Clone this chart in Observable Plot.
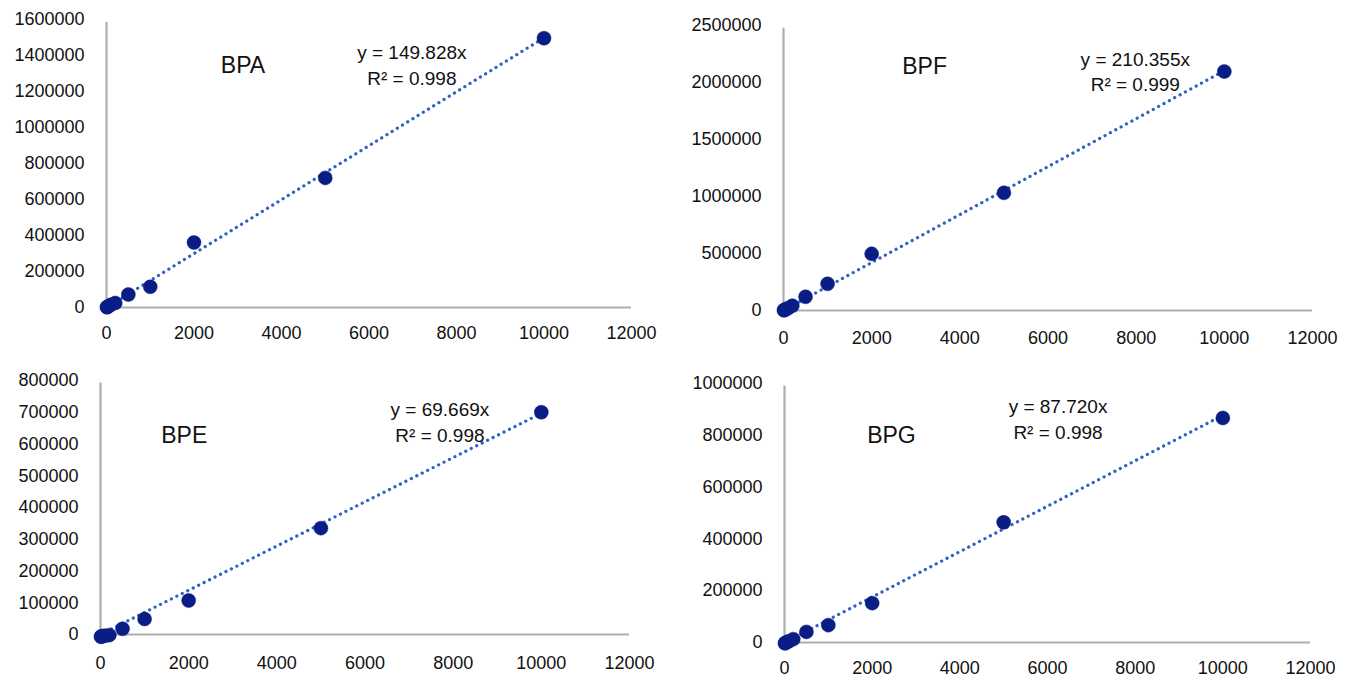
<!DOCTYPE html>
<html><head><meta charset="utf-8">
<script src="https://cdn.jsdelivr.net/npm/d3@7"></script>
<script src="https://cdn.jsdelivr.net/npm/@observablehq/plot@0.6"></script>
<style>
body{margin:0;background:#fff;}
#wrap{position:relative;width:1354px;height:677px;overflow:hidden;background:#fff;}
#wrap svg{position:absolute;}
</style></head><body><div id="wrap"></div>
<script>
// ---- data ----
const compounds = ["BPA", "BPF", "BPE", "BPG"];
const concentrations = [10, 20, 50, 100, 200, 500, 1000, 2000, 5000, 10000];
const bpaValues = [1500, 3000, 7500, 15000, 25000, 72000, 115000, 361000, 720000, 1496000];
const bpfValues = [2000, 4000, 10000, 20000, 42000, 120000, 234000, 497000, 1032000, 2096000];
const bpeValues = [-7000, -6000, -5000, -4000, -2000, 18000, 49000, 107000, 335000, 700000];
const bpgValues = [-3000, -2000, 1000, 5000, 13000, 41000, 67000, 152000, 464000, 867000];
const slopes = [149.828, 210.355, 69.669, 87.720];
const rSquared = ["0.998", "0.999", "0.998", "0.998"];
const xTicks = [0, 2000, 4000, 6000, 8000, 10000, 12000];
const yTicksBPA = [0, 200000, 400000, 600000, 800000, 1000000, 1200000, 1400000, 1600000];
const yTicksBPF = [0, 500000, 1000000, 1500000, 2000000, 2500000];
const yTicksBPE = [0, 100000, 200000, 300000, 400000, 500000, 600000, 700000, 800000];
const yTicksBPG = [0, 200000, 400000, 600000, 800000, 1000000];
// annotation anchors in data units
const nameAnchorX = [3120, 3200, 1900, 2440];
const nameAnchorY = [1341000, 2143000, 627000, 800000];
const eqAnchorX = [6980, 7980, 7700, 6240];
const eqAnchorY = [1413000, 2199000, 707600, 909700];
const r2AnchorY = [1271000, 1982000, 624700, 810000];

const valueSets = [bpaValues, bpfValues, bpeValues, bpgValues];
const yTickSets = [yTicksBPA, yTicksBPF, yTicksBPE, yTicksBPG];

// ---- layout (pixels) ----
const layout = [
  {left: 0,   top: 0,   height: 340, ml: 106, mr: 46, mt: 19, mb: 33, pad: 19},
  {left: 677, top: 0,   height: 340, ml: 106, mr: 42, mt: 25, mb: 30, pad: 21},
  {left: 0,   top: 340, height: 337, ml: 100, mr: 48, mt: 40, mb: 43, pad: 22},
  {left: 677, top: 340, height: 337, ml: 107, mr: 44, mt: 43, mb: 35, pad: 19}
];

const font = "'Liberation Sans', Arial, Helvetica, sans-serif";
const pointColor = "#0a1d85";
const lineColor = "#2f62c2";
const axisColor = "#aeaeae";
const wrap = document.getElementById("wrap");

compounds.forEach((name, i) => {
  const L = layout[i];
  const yTicks = yTickSets[i];
  const yMax = yTicks[yTicks.length - 1];
  const pts = concentrations.map((c, k) => ({x: c, y: valueSets[i][k]}));
  const trend = [0, 10000].map(x => ({x, y: slopes[i] * x}));
  const svg = Plot.plot({
    width: 677,
    height: L.height,
    marginLeft: L.ml, marginRight: L.mr, marginTop: L.mt, marginBottom: L.mb,
    style: {fontFamily: font, background: "transparent", color: "#111", overflow: "visible"},
    x: {domain: [0, 12000], axis: null},
    y: {domain: [0, yMax], axis: null},
    marks: [
      Plot.axisX({ticks: xTicks, tickSize: 0, tickPadding: L.pad, tickFormat: d => String(d), fontSize: 18, fill: "#111", label: null}),
      Plot.axisY({ticks: yTicks, tickSize: 0, tickPadding: 22, tickFormat: d => String(d), fontSize: 18, fill: "#111", label: null}),
      Plot.ruleY([0], {x1: 0, x2: 12000, stroke: axisColor, strokeWidth: 2.2}),
      Plot.ruleX([0], {y1: 0, y2: yMax * 0.99, stroke: axisColor, strokeWidth: 2.2}),
      Plot.line(trend, {x: "x", y: "y", stroke: lineColor, strokeWidth: 3.2, strokeDasharray: "0.1 6", strokeLinecap: "round"}),
      Plot.dot(pts, {x: "x", y: "y", r: 7, fill: pointColor, stroke: pointColor, strokeWidth: 0.5}),
      Plot.text([name], {x: nameAnchorX[i], y: nameAnchorY[i], text: d => d, fontSize: 23, fill: "#111"}),
      Plot.text([`y = ${slopes[i].toFixed(3)}x`], {x: eqAnchorX[i], y: eqAnchorY[i], text: d => d, fontSize: 19, fill: "#111"}),
      Plot.text([`R\u00B2 = ${rSquared[i]}`], {x: eqAnchorX[i], y: r2AnchorY[i], text: d => d, fontSize: 19, fill: "#111"})
    ]
  });
  svg.style.left = L.left + "px";
  svg.style.top = L.top + "px";
  wrap.appendChild(svg);
});
</script></body></html>
